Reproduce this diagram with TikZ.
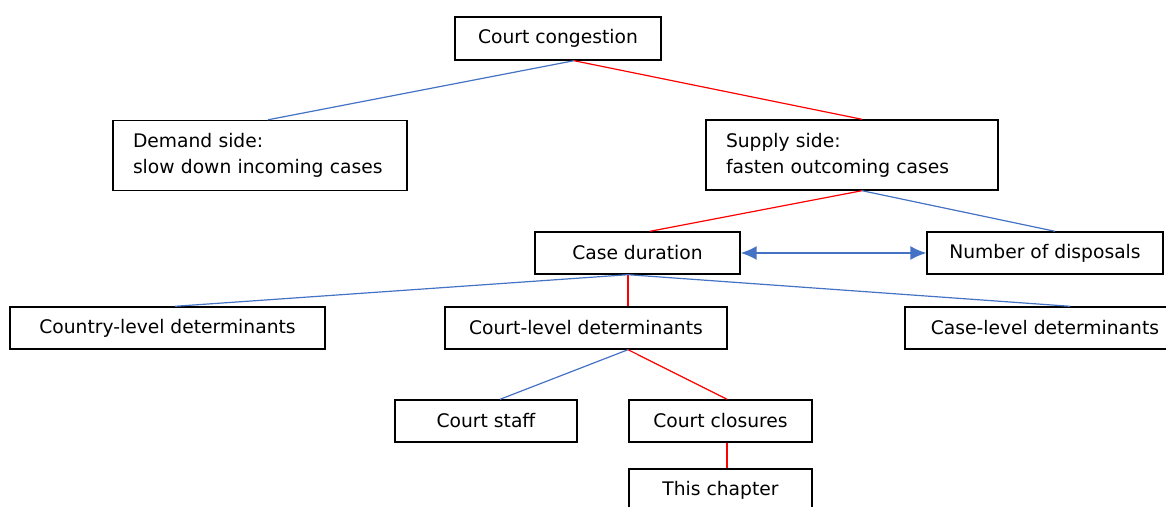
\documentclass[tikz,border=0pt]{standalone}
\usepackage{fontspec}
\setmainfont{DejaVu Sans}
\usetikzlibrary{arrows.meta}
\definecolor{linkblue}{RGB}{68,114,196}

\begin{document}
\begin{tikzpicture}[x=0.5pt,y=-0.5pt,
  box/.style={draw,line width=0.7pt,minimum height=21pt,inner sep=0pt,font=\fontsize{9.35}{13}\selectfont},
  twoline/.style={box,align=left,inner xsep=10pt,minimum height=35pt},
  blu/.style={draw=linkblue,line width=0.6pt},
  rd/.style={draw=red,line width=0.6pt}]
  \useasboundingbox (0,0) rectangle (1166,507);
  % boxes
  \node (cong) [box,minimum width=103pt,minimum height=21.5pt] at (558,38.5) {Court congestion};
  \node (demand) [twoline,text width=127pt] at (260,155.5) {Demand side:\\slow down incoming cases};
  \node (supply) [twoline,text width=126pt] at (852,155) {Supply side:\\fasten outcoming cases};
  \node (dur) [box,minimum width=102.5pt] at (637.5,253) {Case duration};
  \node (disp) [box,minimum width=118pt] at (1045,253) {Number of disposals};
  \node (country) [box,minimum width=157.5pt] at (167.5,328) {Country-level determinants};
  \node (courtlvl) [box,minimum width=141pt] at (586,328) {Court-level determinants};
  \node (caselvl) [box,minimum width=140pt] at (1045,328) {Case-level determinants};
  \node (staff) [box,minimum width=91pt] at (486,421) {Court staff};
  \node (closures) [box,minimum width=91.5pt] at (720.5,421) {Court closures};
  \node (chapter) [box,minimum width=91.5pt] at (720.5,490) {This chapter};
  % links
  \draw[blu] ([xshift=8pt]cong.south) -- ([xshift=4pt]demand.north);
  \draw[rd] ([xshift=8pt]cong.south) -- ([xshift=5pt]supply.north);
  \draw[rd] ([xshift=5pt]supply.south) -- ([xshift=6.25pt]dur.north);
  \draw[blu] ([xshift=5pt]supply.south) -- ([xshift=5pt]disp.north);
  \draw[blu,line width=0.75pt,{Latex[length=8pt,width=7pt]}-{Latex[length=8pt,width=7pt]}] (dur.east) -- (disp.west);
  \draw[blu] ([xshift=-4.75pt]dur.south) -- ([xshift=3.75pt]country.north);
  \draw[rd] ([xshift=-4.75pt]dur.south) -- ([xshift=21pt]courtlvl.north);
  \draw[blu] ([xshift=-4.75pt]dur.south) -- ([xshift=12.5pt]caselvl.north);
  \draw[blu] ([xshift=21pt]courtlvl.south) -- ([xshift=7pt]staff.north);
  \draw[rd] ([xshift=21pt]courtlvl.south) -- ([xshift=3.25pt]closures.north);
  \draw[rd] ([xshift=3.25pt]closures.south) -- ([xshift=3.25pt]chapter.north);
\end{tikzpicture}
\end{document}
